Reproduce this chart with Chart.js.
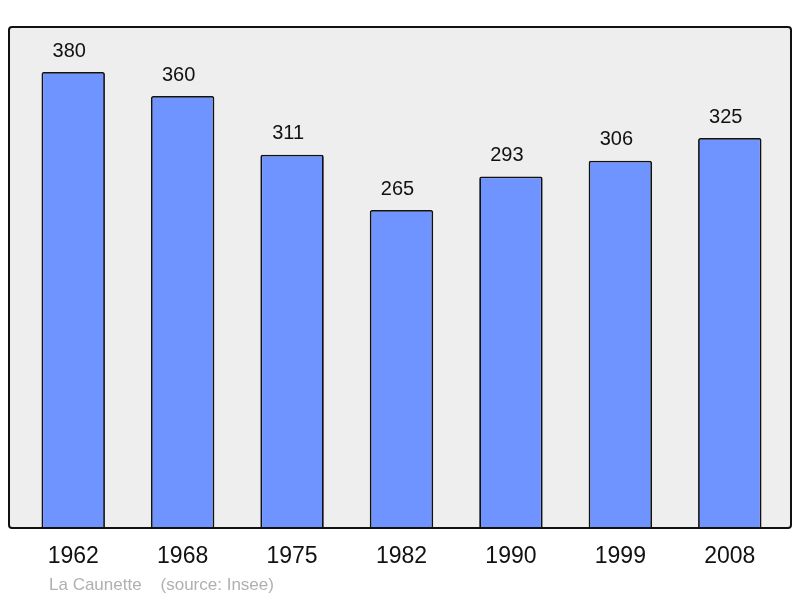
<!DOCTYPE html>
<html>
<head>
<meta charset="utf-8">
<script src="https://cdn.jsdelivr.net/npm/chart.js@4/dist/chart.umd.min.js"></script>
<style>
html,body{margin:0;padding:0;background:#fff;}
#wrap{width:800px;height:598px;}
</style>
</head>
<body>
<div id="wrap"><canvas id="c" width="800" height="598"></canvas></div>
<script>
const years = ['1962','1968','1975','1982','1990','1999','2008'];
const population = [380, 360, 311, 265, 293, 306, 325];
const sourceText = 'La Caunette    (source: Insee)';

const deco = {
  id: 'deco',
  beforeDraw(chart) {
    const ctx = chart.ctx;
    ctx.save();
    ctx.fillStyle = '#ffffff';
    ctx.fillRect(0, 0, chart.width, chart.height);
    ctx.beginPath();
    ctx.roundRect(9, 27, 782, 501, 3);
    ctx.fillStyle = '#eeeeee';
    ctx.fill();
    ctx.restore();
  },
  afterDatasetsDraw(chart) {
    const ctx = chart.ctx;
    ctx.save();
    ctx.beginPath();
    ctx.roundRect(9, 27, 782, 501, 3);
    ctx.lineWidth = 2;
    ctx.strokeStyle = '#111';
    ctx.stroke();
    const xs = chart.scales.x, ys = chart.scales.y;
    ctx.fillStyle = '#111';
    ctx.textAlign = 'center';
    ctx.textBaseline = 'middle';
    ctx.font = '20px "Liberation Sans", Arial, sans-serif';
    population.forEach((v, i) => {
      ctx.fillText(String(v), xs.getPixelForValue(i) - 4, ys.getPixelForValue(v) - 21);
    });
    ctx.font = '23px "Liberation Sans", Arial, sans-serif';
    years.forEach((y, i) => {
      ctx.fillText(y, xs.getPixelForValue(i), 557);
    });
    ctx.textAlign = 'left';
    ctx.fillStyle = '#b0b0b0';
    ctx.font = '17px "Liberation Sans", Arial, sans-serif';
    ctx.fillText(sourceText, 49, 585);
    ctx.restore();
  }
};

new Chart(document.getElementById('c'), {
  type: 'bar',
  data: {
    labels: years,
    datasets: [{
      data: population,
      backgroundColor: '#7094ff',
      borderColor: '#111',
      borderWidth: 1.8,
      borderRadius: 2,
      borderSkipped: 'bottom',
      barPercentage: 0.58,
      categoryPercentage: 1
    }]
  },
  options: {
    responsive: false,
    animation: false,
    devicePixelRatio: 1,
    layout: { padding: { left: 18.5, right: 15.5, top: 27, bottom: 70 } },
    plugins: { legend: { display: false }, tooltip: { enabled: false } },
    scales: {
      x: { display: false, offset: true },
      y: { display: false, min: 0, max: 417.5 }
    }
  },
  plugins: [deco]
});
</script>
</body>
</html>
